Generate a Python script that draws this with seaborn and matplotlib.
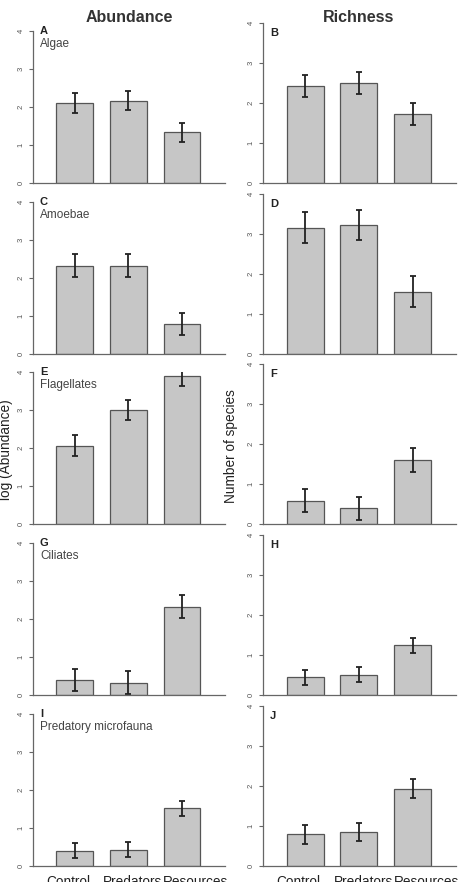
import matplotlib
matplotlib.use("Agg")
import matplotlib.pyplot as plt
import seaborn as sns
import pandas as pd

# ---------------- data ----------------
treatments = ["Control", "Predators", "Resources"]
panel_letters = ["A", "B", "C", "D", "E", "F", "G", "H", "I", "J"]
groups = ["Algae", "Amoebae", "Flagellates", "Ciliates", "Predatory microfauna"]
column_titles = ["Abundance", "Richness"]
ylabels = ["log (Abundance)", "Number of species"]
yticks = [0, 1, 2, 3, 4]

abund_algae = [2.10, 2.16, 1.33]
abund_algae_se = [0.26, 0.25, 0.25]
rich_algae = [2.42, 2.50, 1.72]
rich_algae_se = [0.28, 0.28, 0.28]

abund_amoebae = [2.32, 2.32, 0.79]
abund_amoebae_se = [0.30, 0.30, 0.30]
rich_amoebae = [3.16, 3.22, 1.56]
rich_amoebae_se = [0.38, 0.38, 0.38]

abund_flag = [2.06, 3.01, 3.90]
abund_flag_se = [0.27, 0.26, 0.27]
rich_flag = [0.58, 0.39, 1.60]
rich_flag_se = [0.29, 0.29, 0.29]

abund_cil = [0.40, 0.32, 2.32]
abund_cil_se = [0.29, 0.30, 0.30]
rich_cil = [0.44, 0.51, 1.24]
rich_cil_se = [0.18, 0.18, 0.18]

abund_pred = [0.40, 0.43, 1.52]
abund_pred_se = [0.20, 0.20, 0.20]
rich_pred = [0.79, 0.85, 1.93]
rich_pred_se = [0.24, 0.23, 0.24]

abund_means = [abund_algae, abund_amoebae, abund_flag, abund_cil, abund_pred]
abund_ses = [abund_algae_se, abund_amoebae_se, abund_flag_se, abund_cil_se, abund_pred_se]
rich_means = [rich_algae, rich_amoebae, rich_flag, rich_cil, rich_pred]
rich_ses = [rich_algae_se, rich_amoebae_se, rich_flag_se, rich_cil_se, rich_pred_se]

# ---------------- layout ----------------
W, H = 462, 882
sns.set_theme(style="white")
plt.rcParams["font.family"] = ["Liberation Sans", "DejaVu Sans"]

fig = plt.figure(figsize=(W / 100, H / 100), dpi=100)

left_cols = [(33, 225), (263, 456)]
left_rows = [(31, 183), (202, 354), (372, 524), (543, 695), (714, 866)]
right_rows = [(23, 183), (194, 354), (364, 524), (535, 695), (706, 866)]
label_x = [-0.12, 1.08, 2.25]

bar_fill = "#c6c6c6"
edge = "#555555"
axis_col = "#666666"

for col in range(2):
    rows = left_rows if col == 0 else right_rows
    means_list = abund_means if col == 0 else rich_means
    ses_list = abund_ses if col == 0 else rich_ses
    x0, x1 = left_cols[col]
    for r in range(5):
        top, bot = rows[r]
        ax = fig.add_axes([x0 / W, 1 - bot / H, (x1 - x0) / W, (bot - top) / H])
        df = pd.DataFrame({"treatment": treatments, "value": means_list[r]})
        sns.barplot(data=df, x="treatment", y="value", ax=ax, color=bar_fill,
                    saturation=1, width=0.685, edgecolor=edge, linewidth=0.9,
                    errorbar=None)
        ax.errorbar(range(3), means_list[r], yerr=ses_list[r], fmt="none",
                    ecolor="#222222", elinewidth=1.3, capsize=2.2, capthick=1.3)
        ax.set_xlim(-0.78, 2.8)
        ax.set_ylim(0, 4)
        ax.set_xlabel("")
        ax.set_ylabel("")
        ax.set_xticks([])
        ax.set_yticks(yticks)
        ax.set_yticklabels([str(t) for t in yticks])
        ax.tick_params(axis="y", length=3, width=0.8, color=axis_col,
                       labelsize=5.5, labelcolor="#555555", pad=3, left=True)
        for t in ax.get_yticklabels():
            t.set_rotation(90)
            t.set_va("center")
        for s in ["top", "right"]:
            ax.spines[s].set_visible(False)
        ax.spines["left"].set_bounds(0, 4)
        ax.spines["left"].set_color(axis_col)
        ax.spines["left"].set_linewidth(0.9)
        ax.spines["bottom"].set_color(axis_col)
        ax.spines["bottom"].set_linewidth(0.9)
        for s in ["left", "bottom"]:
            ax.spines[s].set_clip_on(False)
        ax.patch.set_alpha(0)

        letter = panel_letters[2 * r + col]
        if col == 0:
            ax.annotate(letter, xy=(0, 1), xycoords="axes fraction",
                        xytext=(5, 0), textcoords="offset points",
                        ha="left", va="center", fontsize=8, fontweight="bold",
                        color="#222222")
            ax.annotate(groups[r], xy=(0, 1), xycoords="axes fraction",
                        xytext=(5, -9.5), textcoords="offset points",
                        ha="left", va="center", fontsize=8.5, color="#444444")
        else:
            ax.annotate(letter, xy=(0, 1), xycoords="axes fraction",
                        xytext=(5, -7), textcoords="offset points",
                        ha="left", va="center", fontsize=8, fontweight="bold",
                        color="#222222")
        if r == 4:
            for i, name in enumerate(treatments):
                ax.annotate(name, xy=(label_x[i], 0),
                            xycoords=("data", "axes fraction"),
                            xytext=(0, -6.2), textcoords="offset points",
                            ha="center", va="top", fontsize=9.8,
                            color="#222222", annotation_clip=False)

fig.text(129 / W, 1 - 17 / H, column_titles[0], ha="center", va="center",
         fontsize=11.5, fontweight="bold", color="#333333")
fig.text(359 / W, 1 - 17 / H, column_titles[1], ha="center", va="center",
         fontsize=11.5, fontweight="bold", color="#333333")
fig.text(6 / W, 1 - 450 / H, ylabels[0], ha="center", va="center",
         rotation=90, fontsize=9.8, color="#222222")
fig.text(231 / W, 1 - 446 / H, ylabels[1], ha="center", va="center",
         rotation=90, fontsize=9.8, color="#222222")

fig.savefig("out.png", dpi=100, facecolor="white")
